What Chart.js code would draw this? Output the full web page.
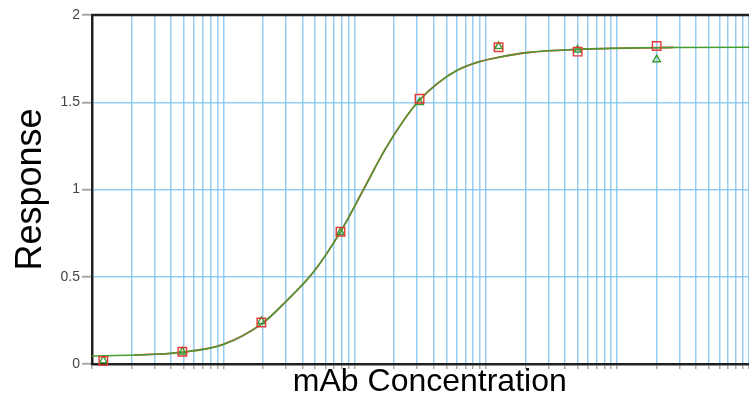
<!DOCTYPE html>
<html>
<head>
<meta charset="utf-8">
<script src="https://cdn.jsdelivr.net/npm/chart.js@4.4.1/dist/chart.umd.min.js"></script>
<style>
  html, body { margin: 0; padding: 0; background: #fff; overflow: hidden; }
  #wrap { width: 775px; height: 395px; }
</style>
</head>
<body>
<div id="wrap"><canvas id="curveChart" width="775" height="395"></canvas></div>
<script>
// 4-fold dilution series
var conc = [0.0122, 0.0488, 0.195, 0.781, 3.125, 12.5, 50, 200];
var respRed = [0.017, 0.07, 0.238, 0.758, 1.52, 1.815, 1.79, 1.822];
var respGreen = [0.02, 0.07, 0.245, 0.755, 1.50, 1.82, 1.80, 1.745];

// fitted curve, sampled along the axis
var fitConc = [0.01, 0.021, 0.048, 0.1, 0.2, 0.3, 0.49, 0.78, 1.17, 1.7, 2.36, 3.1, 4.3, 6.1, 8.7, 12.4, 21, 50, 200, 270, 1400];
var fitResp = [0.046, 0.051, 0.067, 0.112, 0.235, 0.358, 0.53, 0.757, 1.0, 1.227, 1.395, 1.51, 1.609, 1.685, 1.73, 1.757, 1.785, 1.803, 1.813, 1.814, 1.815];

var yTicks = [0, 0.5, 1, 1.5, 2];
var xMin = 0.01, xMax = 1400;

var FONT = "'Liberation Sans', Arial, Helvetica, sans-serif";
var GRID = 'rgba(125, 192, 240, 0.8)';

function pts(xs, ys) {
    return xs.map(function(x, i){ return {x: x, y: ys[i]}; });
}

// black frame line along the top of the plot
var topFrame = {
    id: 'topFrame',
    afterDraw: function(chart){
        var a = chart.chartArea, ctx = chart.ctx;
        ctx.save();
        ctx.strokeStyle = '#222';
        ctx.lineWidth = 2.5;
        ctx.beginPath();
        ctx.moveTo(a.left - 1, a.top);
        ctx.lineTo(a.right, a.top);
        ctx.stroke();
        ctx.restore();
    }
};

var ctx = document.getElementById('curveChart');

var curveChart = new Chart(ctx, {
    type: 'scatter',
    data: {
        datasets: [
            {
                label: 'Rep 1',
                data: pts(conc, respRed),
                pointStyle: 'rect',
                pointRadius: 6,
                borderColor: '#e23b36',
                backgroundColor: 'rgba(0,0,0,0)',
                pointBorderWidth: 1.4,
                showLine: false,
                clip: false
            },
            {
                label: 'Rep 2',
                data: pts(conc, respGreen),
                pointStyle: 'triangle',
                pointRadius: 4.3,
                borderColor: '#3a9a35',
                backgroundColor: 'rgba(0,0,0,0)',
                pointBorderWidth: 1.5,
                showLine: false,
                clip: false
            },
            {
                label: 'Fit 2',
                data: pts(fitConc, fitResp),
                showLine: true,
                cubicInterpolationMode: 'monotone',
                borderColor: '#469e30',
                borderWidth: 1.5,
                pointRadius: 0
            },
            {
                label: 'Fit 1',
                data: pts(fitConc.slice(1, -1), fitResp.slice(1, -1)),
                showLine: true,
                cubicInterpolationMode: 'monotone',
                borderColor: '#d8453a',
                borderWidth: 1.8,
                pointRadius: 0
            }
        ]
    },
    options: {
        responsive: false,
        animation: false,
        events: [],
        layout: { padding: { top: 15, right: 3, bottom: 0, left: 0 } },
        plugins: {
            legend: { display: false },
            tooltip: { enabled: false }
        },
        scales: {
            x: {
                type: 'logarithmic',
                min: xMin,
                max: xMax,
                afterBuildTicks: function(scale){
                    var ticks = [];
                    for (var e = -2; e <= 3; e++) {
                        for (var m = 1; m < 10; m++) {
                            var v = m * Math.pow(10, e);
                            if (v >= xMin && v <= xMax) ticks.push({value: v});
                        }
                    }
                    scale.ticks = ticks;
                },
                afterFit: function(scale){ scale.height = 31; },
                ticks: { display: false },
                grid: {
                    color: GRID,
                    lineWidth: 1.5,
                    tickColor: '#aaa',
                    tickLength: 5,
                    tickWidth: 1.5
                },
                border: { color: '#222', width: 2.5 },
                title: {
                    display: true,
                    text: 'mAb Concentration',
                    color: '#000',
                    font: { family: FONT, size: 32, lineHeight: 0.8 },
                    padding: 0
                }
            },
            y: {
                min: 0,
                max: 2,
                afterBuildTicks: function(scale){
                    scale.ticks = yTicks.map(function(v){ return {value: v}; });
                },
                afterFit: function(scale){ scale.width = 92; },
                ticks: {
                    color: '#444',
                    padding: 2,
                    font: { family: FONT, size: 14 },
                    callback: function(v){ return String(v); }
                },
                grid: {
                    color: GRID,
                    lineWidth: 1.5,
                    tickColor: '#aaa',
                    tickLength: 10,
                    tickWidth: 2
                },
                border: { color: '#222', width: 2.5 },
                title: {
                    display: true,
                    text: 'Response',
                    color: '#000',
                    font: { family: FONT, size: 36, lineHeight: 1 },
                    padding: { top: 13, bottom: 0 }
                }
            }
        }
    },
    plugins: [topFrame]
});
</script>
</body>
</html>
